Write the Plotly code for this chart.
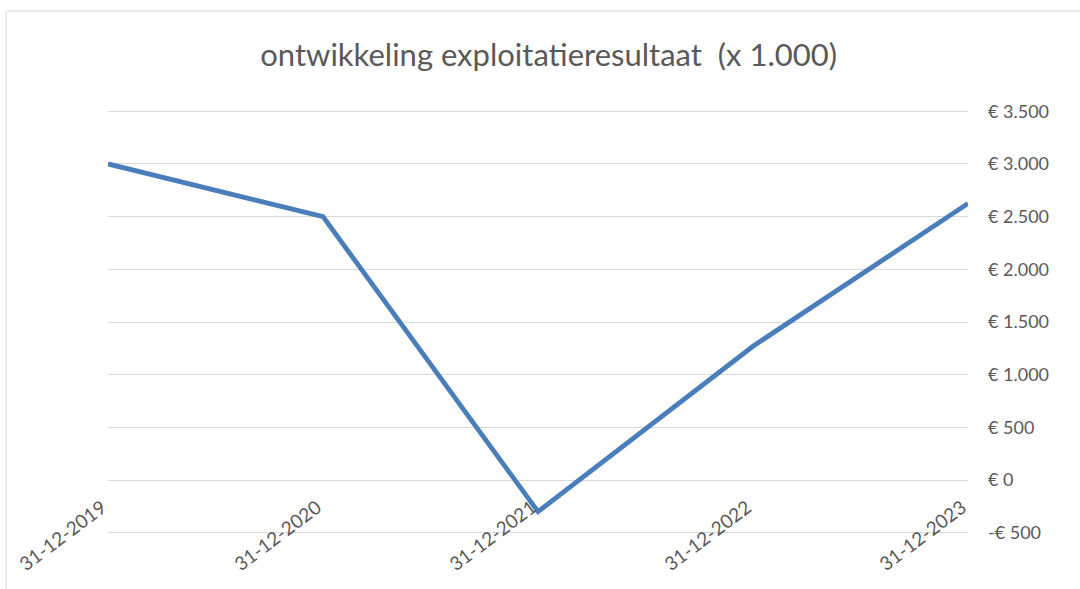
import plotly.graph_objects as go

dates = ["31-12-2019", "31-12-2020", "31-12-2021", "31-12-2022", "31-12-2023"]
resultaat = [3000, 2500, -300, 1270, 2625]

y_ticks = [-500, 0, 500, 1000, 1500, 2000, 2500, 3000, 3500]
y_labels = ["-€ 500", "€ 0", "€ 500", "€ 1.000", "€ 1.500", "€ 2.000", "€ 2.500", "€ 3.000", "€ 3.500"]

grey = "#595959"
font = "Lato"
# a little padding so the outer gridlines are still drawn
y_min, y_max = -512, 3512

fig = go.Figure()
fig.add_scatter(
    x=dates,
    y=resultaat,
    mode="lines",
    line=dict(color="#4a7ebb", width=4.8),
    showlegend=False,
)

fig.update_layout(
    width=1080,
    height=589,
    margin=dict(l=108, r=112, t=110, b=55),
    paper_bgcolor="white",
    plot_bgcolor="white",
    title=dict(
        text="ontwikkeling exploitatieresultaat  (x 1.000)",
        x=0.508,
        xanchor="center",
        y=0.907,
        yanchor="middle",
        font=dict(family=font, size=31, color=grey),
    ),
    xaxis=dict(
        type="category",
        range=[0, len(dates) - 1],
        showgrid=False,
        showline=False,
        ticks="",
        tickangle=-37,
        anchor="free",
        position=(0 - y_min) / (y_max - y_min),
        automargin=False,
        ticklabelstandoff=12,
        ticklabelshift=-6,
        tickfont=dict(family=font, size=19, color=grey),
    ),
    yaxis=dict(
        range=[y_min, y_max],
        side="right",
        tickvals=y_ticks,
        ticktext=y_labels,
        showgrid=True,
        gridcolor="#d9d9d9",
        gridwidth=1,
        zeroline=False,
        showline=False,
        ticks="",
        automargin=False,
        ticklabelstandoff=19,
        tickfont=dict(family=font, size=18, color=grey),
    ),
    shapes=[
        dict(
            type="rect",
            xref="paper",
            yref="paper",
            x0=-102 / 860,
            x1=1.2,
            y0=-0.3,
            y1=(534 - 11) / 424,
            line=dict(color="#d9d9d9", width=1),
            fillcolor="rgba(0,0,0,0)",
            layer="below",
        )
    ],
)

fig.write_html(
    "out.html",
    config={"displayModeBar": False},
    post_script="document.body.style.margin='0';",
)
